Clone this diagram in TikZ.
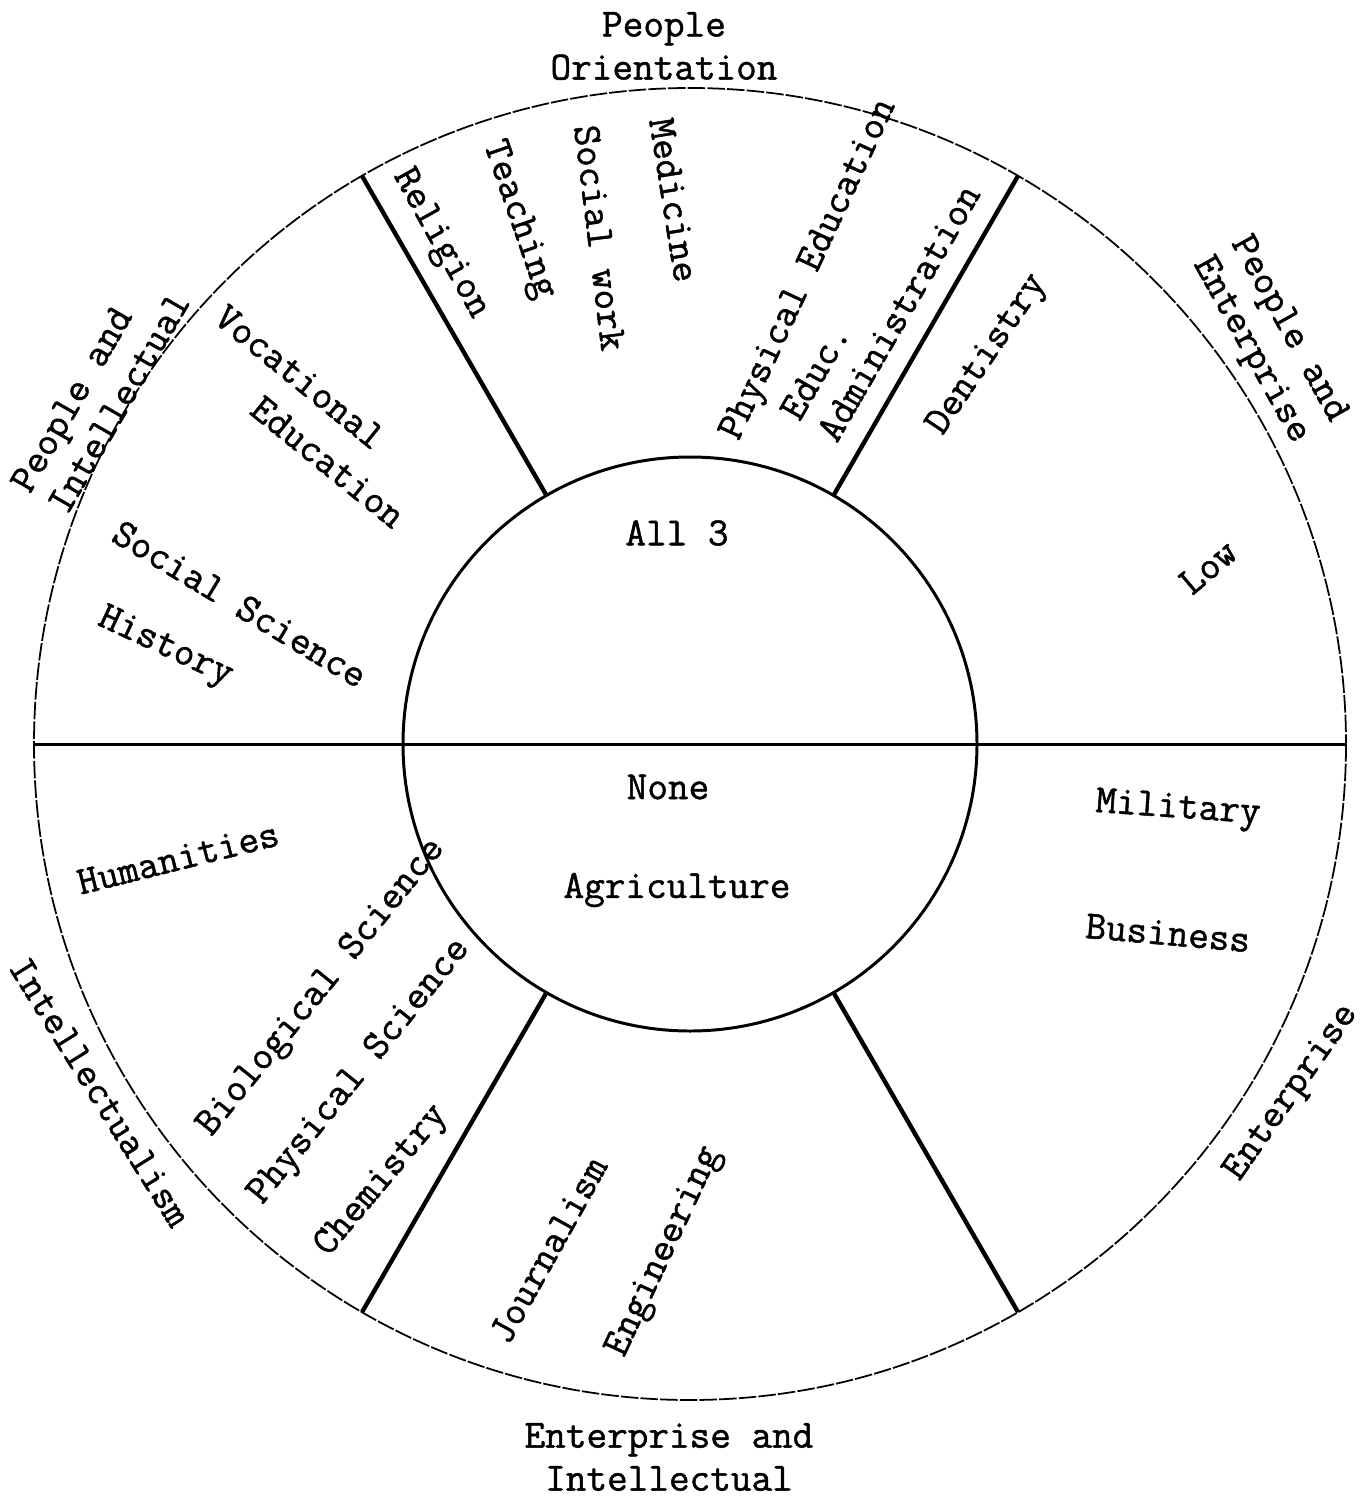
\documentclass[tikz,border=0pt]{standalone}
\usepackage{fontspec}
\usepackage{tikz}
\newfontfamily\typew{Latin Modern Mono}[FakeBold=1.2]

\begin{document}
\begin{tikzpicture}[x=0.02cm, y=-0.02cm,
    lbl/.style={font=\typew\fontsize{22.8}{24.5}\selectfont, inner sep=0pt},
    rim/.style={line width=1pt, dash pattern=on 10pt off 1.2pt},
    hub/.style={line width=1.7pt},
    spoke/.style={line width=2.5pt}]
        \useasboundingbox[fill=white] (0,0) rectangle (1364,1501);
        \coordinate (c) at (690,744);
        \draw[rim] (c) circle [radius=656];
        \draw[hub] (c) circle [radius=287];
        \draw[hub, shift={(c)}] (180:656) -- (0:656);
        \foreach \a in {60,120,240,300}
            \draw[spoke, shift={(c)}] (\a:287) -- (\a:656);
        % headings round the wheel
        \node[lbl, align=center] (peo) at (664,46) {People\\Orientation};
        \node[lbl, align=left, rotate=-61] (peoent) at (1269,340) {People and\\Enterprise};
        \node[lbl, align=left, rotate=60] (peoint) at (100,392) {People and\\Intellectual};
        \node[lbl, rotate=55] (ent) at (1292,1093) {Enterprise};
        \node[lbl, rotate=-58] (intl) at (100,1092) {Intellectualism};
        \node[lbl, align=center] (entint) at (669,1457) {Enterprise and\\Intellectual};
        % hub
        \node[lbl] (all) at (677,533) {All 3};
        \node[lbl] (none) at (668,787) {None};
        \node[lbl] (agri) at (677,890) {Agriculture};
        % top sector
        \node[lbl, rotate=-61] (rel) at (440,244) {Religion};
        \node[lbl, rotate=-71] (teach) at (518,220) {Teaching};
        \node[lbl, rotate=-83] (socw) at (600,238) {Social work};
        \node[lbl, rotate=-81] (med) at (674,200) {Medicine};
        \node[lbl, rotate=65] (phys) at (810,270) {Physical Education};
        \node[lbl, align=left, rotate=60] (educ) at (880,302) {Educ.\\Administration};
        % upper right
        \node[lbl, rotate=56] (dent) at (988,355) {Dentistry};
        \node[lbl, rotate=40] (low) at (1208,567) {Low};
        % upper left
        \node[lbl, rotate=-39] (voc) at (300,377) {Vocational};
        \node[lbl, rotate=-39] (vocedu) at (328,462) {Education};
        \node[lbl, rotate=-31] (socsci) at (240,604) {Social Science};
        \node[lbl, rotate=-25] (hist) at (165,648) {History};
        % lower right
        \node[lbl, rotate=-4] (mil) at (1178,810) {Military};
        \node[lbl, rotate=-5] (bus) at (1168,933) {Business};
        % bottom sector
        \node[lbl, rotate=61] (jour) at (548,1250) {Journalism};
        \node[lbl, rotate=65] (eng) at (665,1252) {Engineering};
        % lower left
        \node[lbl, rotate=14] (hum) at (178,858) {Humanities};
        \node[lbl, rotate=51] (bio) at (322,988) {Biological Science};
        \node[lbl, rotate=51] (physsci) at (360,1072) {Physical Science};
        \node[lbl, rotate=50] (chem) at (382,1181) {Chemistry};
    \end{tikzpicture}
\end{document}
